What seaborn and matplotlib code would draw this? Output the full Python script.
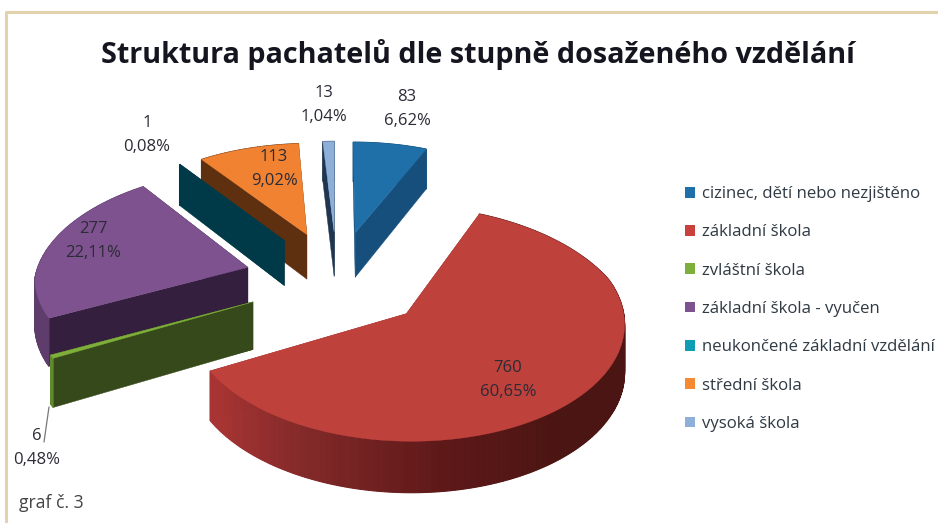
# -*- coding: utf-8 -*-
import numpy as np
import matplotlib
matplotlib.use('Agg')
import matplotlib.pyplot as plt
from matplotlib.patches import Patch
import seaborn as sns

# data
categories = ['cizinec, dětí nebo nezjištěno', 'základní škola', 'zvláštní škola',
              'základní škola - vyučen', 'neukončené základní vzdělání',
              'střední škola', 'vysoká škola']
counts = [83, 760, 6, 277, 1, 113, 13]
top_colors = ['#1F6FA8', '#BE413C', '#7EAF3A', '#7D528F', '#003A48', '#F08232', '#8DAFD8']
side_colors = ['#174F7C', '#8E2C2A', '#36491A', '#351F3F', '#003A48', '#5E3010', '#1F3550']
rim_colors = ['#174F7C', '#8E2C2A', '#5F8A2C', '#5E3D6C', '#003A48', '#5E3010', '#1F3550']
legend_colors = ['#1F6FA8', '#C8413C', '#7EAF3A', '#7D528F', '#0E9DB5', '#F58A32', '#8DAFD8']

# projection of the tilted pie
CX, CY = 337, 279
EXPLODE = 93
R = 213
TILT = 0.536
PERSP = 0.000627
HEIGHT = 47


def project(X, Y, z=0.0):
    # front half of the pie grows slower than the back half shrinks
    p = np.where(np.asarray(Y) < 0, PERSP * 0.5, PERSP)
    f = 1 / (1 + p * Y)
    return CX + X * f, CY - TILT * Y * f + z * f


sns.set_theme(style='white')
plt.rcParams['font.family'] = ['Open Sans', 'DejaVu Sans']

fig = plt.figure(figsize=(9.38, 5.23), dpi=100)
ax = fig.add_axes([0, 0, 1, 1])
ax.set_xlim(0, 938)
ax.set_ylim(523, 0)
ax.axis('off')

# page frame
ax.plot([5.5, 5.5, 938], [523, 11.5, 11.5], color='#E3D2AE', lw=2.2)

counts_arr = np.array(counts, dtype=float)
edges = np.radians(np.concatenate([[0], np.cumsum(counts_arr)]) / counts_arr.sum() * 360)
mids = (edges[:-1] + edges[1:]) / 2
ox = EXPLODE * np.sin(mids)
oy = EXPLODE * np.cos(mids)

red_shades = sns.blend_palette(['#A83533', '#802828', '#5E1818', '#4A1512'], 60)

for i in np.argsort(-oy):
    th = np.linspace(edges[i], edges[i + 1], max(int(np.degrees(edges[i + 1] - edges[i]) * 1.5), 2))
    X = ox[i] + R * np.sin(th)
    Y = oy[i] + R * np.cos(th)
    # radial cut faces
    for a, b in [(X[0], Y[0]), (X[-1], Y[-1])]:
        p0 = project(ox[i], oy[i])
        p1 = project(a, b)
        p2 = project(a, b, HEIGHT)
        p3 = project(ox[i], oy[i], HEIGHT)
        ax.fill([p0[0], p1[0], p2[0], p3[0]], [p0[1], p1[1], p2[1], p3[1]],
                color=side_colors[i], lw=0.3)
    # outer rim
    for j in range(len(th) - 1):
        p0 = project(X[j], Y[j])
        p1 = project(X[j + 1], Y[j + 1])
        p2 = project(X[j + 1], Y[j + 1], HEIGHT)
        p3 = project(X[j], Y[j], HEIGHT)
        col = rim_colors[i]
        if categories[i] == 'základní škola':
            # rim gets darker to the right
            t = np.clip((238 - np.degrees(th[j])) / 98, 0, 1)
            col = red_shades[int(t * 59)]
        ax.fill([p0[0], p1[0], p2[0], p3[0]], [p0[1], p1[1], p2[1], p3[1]],
                color=col, lw=0.8)
    # top face
    tx, ty = project(np.r_[ox[i], X], np.r_[oy[i], Y])
    ax.fill(tx, ty, color=top_colors[i], lw=0.3)

# data labels
label_pos = [(407, 109), (508, 380), (37, 448), (93, 241), (147, 135), (274, 169), (324, 105)]
for c, pos in zip(counts, label_pos):
    pct = f'{c / counts_arr.sum() * 100:.2f}'.replace('.', ',')
    ax.text(pos[0], pos[1], f'{c}\n{pct}%', ha='center', va='center', fontsize=12,
            color='#2B2B35', linespacing=1.65)
ax.plot([49, 44], [407, 442], color='#777777', lw=0.9)

# title
ax.text(478, 54, 'Struktura pachatelů dle stupně dosaženého vzdělání', ha='center', va='center',
        fontsize=20.7, fontweight='bold', color='#15151F')
ax.text(19, 503, 'graf č. 3', ha='left', va='center', fontsize=12.7, color='#444444')

handles = [Patch(facecolor=c, edgecolor='none') for c in legend_colors]
ax.legend(handles, categories, loc='upper left', bbox_to_anchor=(0.730, 0.644), frameon=False,
          fontsize=12.1, labelcolor='#2F3A44', handlelength=0.6, handleheight=0.6, handletextpad=0.42,
          labelspacing=1.325, borderpad=0, borderaxespad=0)

fig.savefig('out.png', dpi=100)
